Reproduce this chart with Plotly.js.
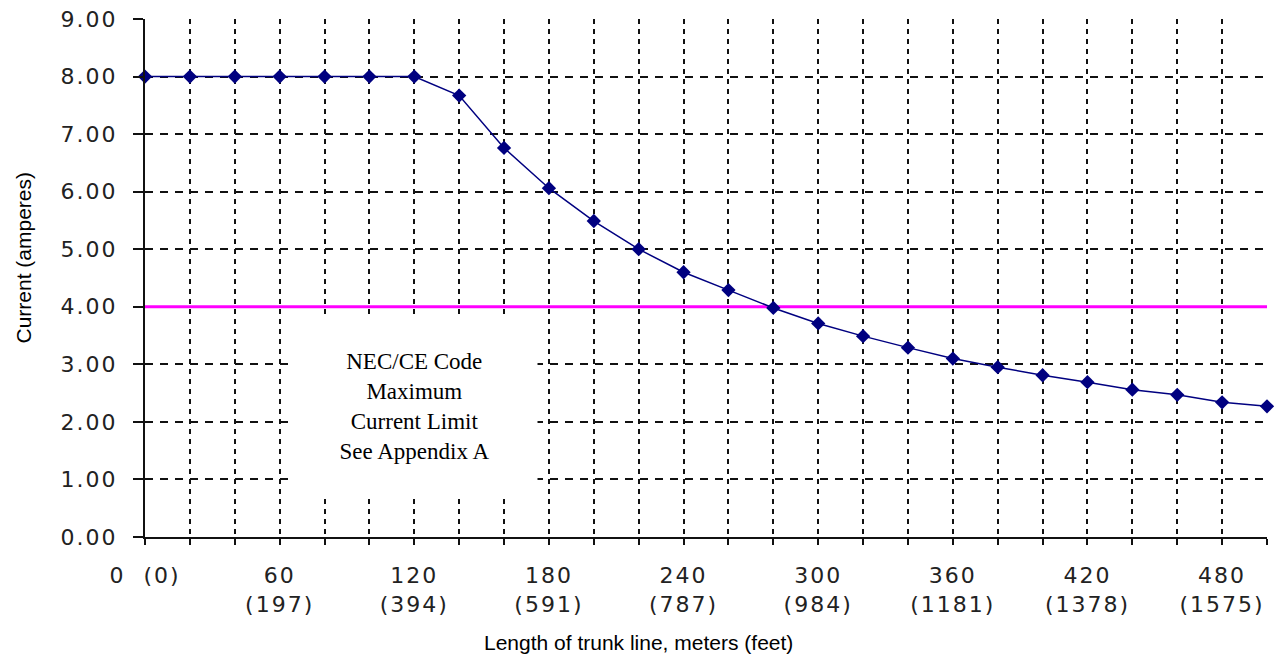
<!DOCTYPE html>
<html>
<head>
<meta charset="utf-8">
<script src="https://cdn.plot.ly/plotly-3.0.1.min.js"></script>
<style>
html,body{margin:0;padding:0;background:#fff;}
#chart{width:1276px;height:658px;}
.xtick text,.ytick text{letter-spacing:2px;}
</style>
</head>
<body>
<div id="chart"></div>
<script>
// Trunk length in meters
const lengthMeters = [0,20,40,60,80,100,120,140,160,180,200,220,240,260,280,300,320,340,360,380,400,420,440,460,480,500];
// Allowed current (amperes)
const currentAmps = [8.00,8.00,8.00,8.00,8.00,8.00,8.00,7.67,6.76,6.06,5.49,5.00,4.60,4.29,3.98,3.71,3.49,3.29,3.10,2.95,2.81,2.69,2.56,2.47,2.34,2.27];
// NEC/CE code maximum current limit
const limitX = [0,500];
const limitAmps = [4.00,4.00];
// x-axis ticks (meters) and labels (meters / feet)
const xTickVals = [0,20,40,60,80,100,120,140,160,180,200,220,240,260,280,300,320,340,360,380,400,420,440,460,480,500];
const xTickText = ['0&nbsp;&nbsp;(0)','','','60<br>(197)','','','120<br>(394)','','','180<br>(591)','','','240<br>(787)','','','300<br>(984)','','','360<br>(1181)','','','420<br>(1378)','','','480<br>(1575)','',''];
const yTickVals = [0,1,2,3,4,5,6,7,8,9];

const traces = [
  {x: limitX, y: limitAmps, type:'scatter', mode:'lines',
   line:{color:'#FF00FF', width:3}, hoverinfo:'skip'},
  {x: lengthMeters, y: currentAmps, type:'scatter', mode:'lines+markers',
   line:{color:'#000080', width:1.5},
   marker:{symbol:'diamond', size:11, color:'#000080'}, cliponaxis:false}
];

const tickFont = {family:'DejaVu Sans, Verdana, sans-serif', size:22, color:'#222'};
const titleFont = {family:'Liberation Sans, Arial, sans-serif', size:21, color:'#000'};

const layout = {
  width:1276, height:658,
  margin:{l:145, r:9, t:19, b:121},
  paper_bgcolor:'#fff', plot_bgcolor:'#fff',
  showlegend:false,
  xaxis:{
    range:[0,500], tickmode:'array', tickvals:xTickVals, ticktext:xTickText,
    ticks:'outside', ticklen:6, tickwidth:2, tickcolor:'#111',
    showline:true, linecolor:'#111', linewidth:2,
    showgrid:true, gridcolor:'#111', gridwidth:2, griddash:'5px,5px',
    zeroline:false, tickfont:tickFont, ticklabelstandoff:12, fixedrange:true
  },
  yaxis:{
    range:[0,9], tickmode:'array', tickvals:yTickVals, tickformat:'.2f',
    ticks:'outside', ticklen:10, tickwidth:2, tickcolor:'#111',
    showline:true, linecolor:'#111', linewidth:2,
    showgrid:true, gridcolor:'#111', gridwidth:2, griddash:'8px,7px',
    zeroline:false, tickfont:tickFont, ticklabelstandoff:11,
    fixedrange:true
  },
  xaxis2:{
    overlaying:'x', anchor:'y', side:'bottom', range:[0,500],
    tickmode:'array', tickvals:xTickVals, ticks:'inside', ticklen:6, tickwidth:2, tickcolor:'#111',
    showticklabels:false, showgrid:false, showline:false, zeroline:false
  },
  yaxis2:{
    overlaying:'y', anchor:'x', side:'left', range:[0,9],
    tickmode:'array', tickvals:yTickVals, ticks:'inside', ticklen:10, tickwidth:2, tickcolor:'#111',
    showticklabels:false, showgrid:false, showline:false, zeroline:false
  },
  annotations:[
    {x:120, y:2.26, xref:'x', yref:'y', showarrow:false,
     text:'NEC/CE Code<br>Maximum<br>Current Limit<br>See Appendix A',
     font:{family:'Liberation Serif, Times New Roman, serif', size:23, color:'#000'},
     bgcolor:'#fff', width:243, height:177, align:'center', valign:'middle'},
    {x:0.4394, y:-0.2035, xref:'paper', yref:'paper', showarrow:false,
     xanchor:'center', yanchor:'middle',
     text:'Length of trunk line, meters (feet)', font:titleFont},
    {x:-0.1087, y:0.5396, xref:'paper', yref:'paper', showarrow:false,
     xanchor:'center', yanchor:'middle', textangle:-90,
     text:'Current (amperes)', font:titleFont}
  ]
};

Plotly.newPlot('chart', traces, layout, {staticPlot:true, displayModeBar:false});
</script>
</body>
</html>
